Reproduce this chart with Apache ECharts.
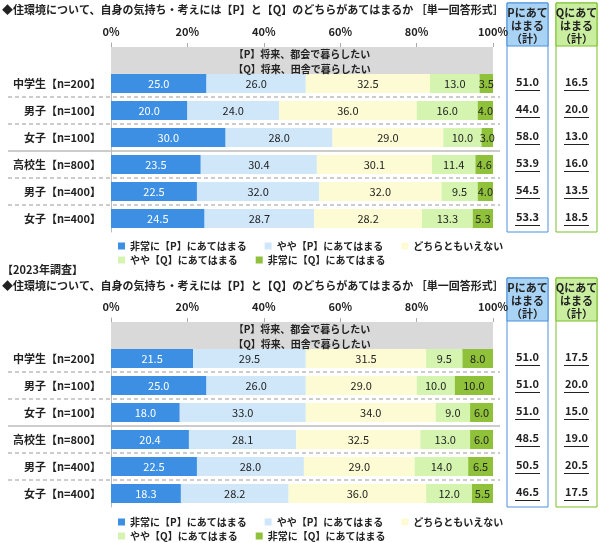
<!DOCTYPE html><html><head><meta charset="utf-8"><script src="https://cdn.jsdelivr.net/npm/echarts@6/dist/echarts.min.js"></script>
<style>body{margin:0}#c{width:600px;height:543px}</style></head><body><div id="c"></div><script>
const categories=['','中学生【n=200】','男子【n=100】','女子【n=100】','高校生【n=800】','男子【n=400】','女子【n=400】'];
const seriesNames=['非常に【P】にあてはまる','やや【P】にあてはまる','どちらともいえない','やや【Q】にあてはまる','非常に【Q】にあてはまる'];
const a1=[25.0,20.0,30.0,23.5,22.5,24.5];
const a2=[26.0,24.0,28.0,30.4,32.0,28.7];
const a3=[32.5,36.0,29.0,30.1,32.0,28.2];
const a4=[13.0,16.0,10.0,11.4,9.5,13.3];
const a5=[3.5,4.0,3.0,4.6,4.0,5.3];
const pTot1=['51.0','44.0','58.0','53.9','54.5','53.3'];
const qTot1=['16.5','20.0','13.0','16.0','13.5','18.5'];
const b1=[21.5,25.0,18.0,20.4,22.5,18.3];
const b2=[29.5,26.0,33.0,28.1,28.0,28.2];
const b3=[31.5,29.0,34.0,32.5,29.0,36.0];
const b4=[9.5,10.0,9.0,13.0,14.0,12.0];
const b5=[8.0,10.0,6.0,6.0,6.5,5.5];
const pTot2=['51.0','51.0','51.0','48.5','50.5','46.5'];
const qTot2=['17.5','20.0','15.0','19.0','20.5','17.5'];
const xTicks=['0%','20%','40%','60%','80%','100%'];
const title1='◆住環境について、自身の気持ち・考えには【P】と【Q】のどちらがあてはまるか ［単一回答形式］';
const title2='【2023年調査】';
const headerText='【P】将来、都会で暮らしたい\n【Q】将来、田舎で暮らしたい';
const colors=['#3d8fe3','#cfe7f9','#fdfbd3','#d5f4b0','#8fc23a'];
const F='"Noto Sans CJK JP"';
const chart=echarts.init(document.getElementById('c'));
const grids=[{left:111,width:382,top:43,height:189},{left:111,width:382,top:318,height:189}];
const xAxes=grids.map((g,i)=>({gridIndex:i,type:'value',min:0,max:100,interval:20,position:'top',axisLine:{show:false},axisTick:{show:true,length:4,inside:true,lineStyle:{color:'#aaa'}},splitLine:{show:false},axisLabel:{fontFamily:F,fontWeight:'bold',fontSize:11,color:'#222',formatter:v=>xTicks[v/20],margin:6}}));
const yAxes=grids.map((g,i)=>({gridIndex:i,type:'category',inverse:true,data:categories,axisLine:{show:true,lineStyle:{color:'#bbb'}},axisTick:{show:false},axisLabel:{fontFamily:F,fontWeight:'bold',fontSize:11,color:'#222',margin:10}}));
const sets=[[a1,a2,a3,a4,a5],[b1,b2,b3,b4,b5]];
const series=[];
sets.forEach((set,gi)=>{
 series.push({type:'bar',xAxisIndex:gi,yAxisIndex:gi,stack:'h'+gi,barWidth:30,barGap:'-100%',silent:true,
  data:[100,null,null,null,null,null,null],itemStyle:{color:'#d9d9d9'},
  label:{show:true,position:'inside',formatter:headerText,fontFamily:F,fontWeight:'bold',fontSize:10,color:'#222',lineHeight:15}});
 set.forEach((arr,k)=>{
  series.push({name:seriesNames[k],type:'bar',xAxisIndex:gi,yAxisIndex:gi,stack:'s'+gi,barWidth:19,
   data:[null,...arr],itemStyle:{color:colors[k]},
   label:{show:true,position:'inside',formatter:p=>p.value.toFixed(1),fontFamily:F,fontSize:11,color:k==0?'#fff':'#222'}});
 });
});
const lg=(top,names)=>({top:top,left:113,data:names,itemWidth:7,itemHeight:7,icon:'rect',itemGap:18,textStyle:{fontFamily:F,fontWeight:'bold',fontSize:10,color:'#222',width:120}});
chart.setOption({animation:false,grid:grids,xAxis:xAxes,yAxis:yAxes,series:series,
 legend:[lg(236,seriesNames.slice(0,3)),lg(250,seriesNames.slice(3)),lg(512,seriesNames.slice(0,3)),lg(526,seriesNames.slice(3))]});
const g=[];
const txt=(x,y,t,o)=>g.push(Object.assign({type:'text',x:x,y:y,style:Object.assign({text:t,fontFamily:F,fontWeight:'bold',fontSize:11,fill:'#222'},o||{})}));
txt(2,4,title1);
txt(2,264,title2);
txt(2,280,title1);
[[pTot1,qTot1],[pTot2,qTot2]].forEach((tt,gi)=>{
 const yc=i=>chart.convertToPixel({yAxisIndex:gi},categories[i]);
 const top=gi?278:3, bot=gi?507:232;
 [[1,'dashed'],[2,'dashed'],[3,'solid'],[4,'dashed'],[5,'dashed']].forEach(([i,t])=>{
  const y=(yc(i)+yc(i+1))/2;
  g.push({type:'line',shape:{x1:8,y1:y,x2:500,y2:y},style:{stroke:'#999',lineWidth:1,lineDash:t=='dashed'?[4,3]:null}});
 });
 [['#4a90d9','#a9d3f5',507,tt[0],'Pにあて\nはまる\n（計）'],['#7bbf2a','#c9eea0',556,tt[1],'Qにあて\nはまる\n（計）']].forEach(([bc,fc,x,vals,h])=>{
  g.push({type:'rect',shape:{x:x,y:top,width:41,height:bot-top},style:{fill:'#fff',stroke:bc,lineWidth:1}});
  g.push({type:'rect',shape:{x:x,y:top,width:41,height:43},style:{fill:fc,stroke:bc,lineWidth:1}});
  txt(x+20.5,top+3,h,{align:'center',lineHeight:13,fontSize:11});
  vals.forEach((v,i)=>{const y=yc(i+1);txt(x+20.5,y-7,v,{align:'center'});
   g.push({type:'line',shape:{x1:x+8,y1:y+7,x2:x+33,y2:y+7},style:{stroke:'#222',lineWidth:1}});});
 });
});
chart.setOption({graphic:g});
</script></body></html>
